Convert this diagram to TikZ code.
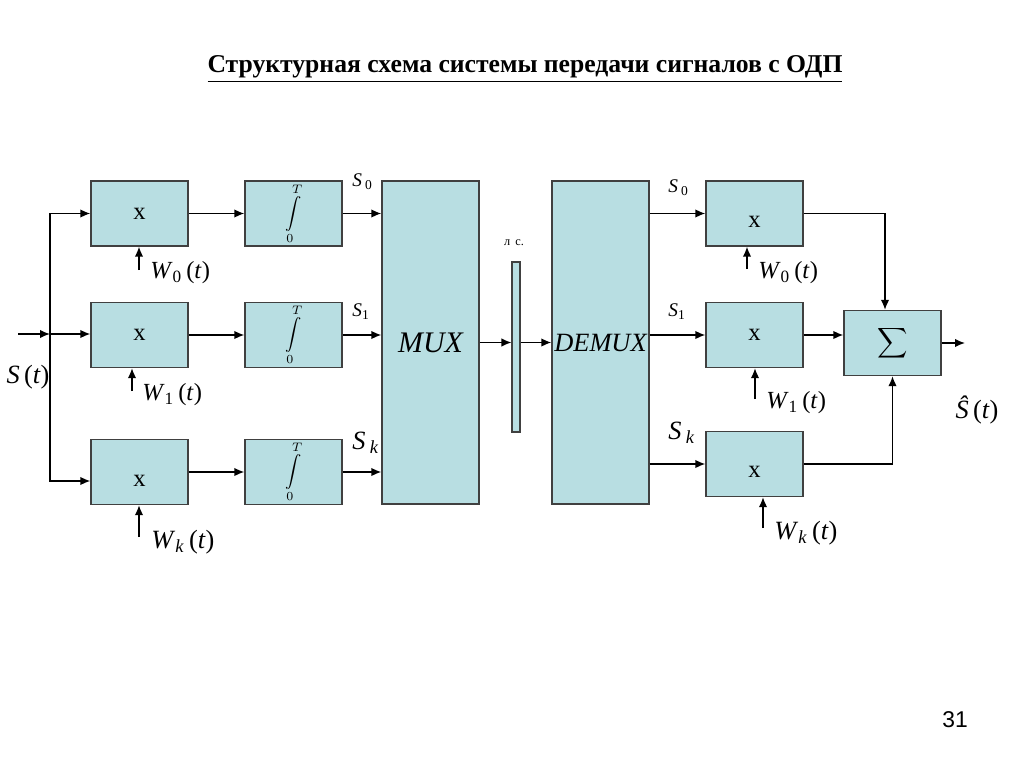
\documentclass[tikz,border=0pt]{standalone}
\usepackage{exscale}
\usepackage{fontspec}
\setmainfont{Liberation Serif}
\newfontfamily\arialfont{Liberation Sans}
\usetikzlibrary{arrows.meta}
\definecolor{boxfill}{RGB}{184,222,226}
\newcommand{\lowx}[1]{\raisebox{-#1}[1ex][0pt]{x}}
\newcommand{\intTo}{$\displaystyle\int\limits_0^T$}

\begin{document}
\begin{tikzpicture}[x=0.02cm, y=-0.02cm, >={Latex[length=2mm,width=1.7mm]},
	blk/.style={rectangle, draw=black!75, fill=boxfill, line width=0.8pt, minimum width=1.94cm, minimum height=1.3cm, inner sep=0pt, font=\fontsize{14}{16}\selectfont},
	tall/.style={blk, minimum height=6.46cm, font=\itshape\fontsize{17}{20}\selectfont},
	lbl/.style={inner sep=0pt, font=\fontsize{14}{16}\selectfont},
	sml/.style={inner sep=0pt, anchor=west, font=\fontsize{11}{13}\selectfont}]
			\useasboundingbox (0,0) rectangle (1024,767);
			\node[lbl, font=\bfseries\fontsize{14.6}{17}\selectfont] (title) at (525,69) {\underline{Структурная схема системы передачи сигналов с ОДП}};
			
			% Передатчик
			\node[blk] (m0) at (139.5,213.5) {\lowx{0cm}};
			\node[blk] (m1) at (139.5,335) {\lowx{0cm}};
			\node[blk] (mk) at (139.5,472) {\lowx{0.18cm}};
			\node[blk, font=\fontsize{9.5}{11}\selectfont] (i0) at (293.5,213.5) {\intTo};
			\node[blk, font=\fontsize{9.5}{11}\selectfont] (i1) at (293.5,335) {\intTo};
			\node[blk, font=\fontsize{9.5}{11}\selectfont] (ik) at (293.5,472) {\intTo};
			\node[tall] (mux) at (430.5,342.5) {MUX};
			
			\coordinate (in) at (18,334);
			\coordinate (split) at (50,334);
			\draw[->,thick] (in) -- (split);
			\draw[->,thick] (split) |- (m0.west);
			\draw[->,thick] (split) -- (split -| m1.west);
			\draw[->,thick] (split) |- ([yshift=-0.18cm]mk.west);
			\draw[->,thick] (m0) -- (i0);
			\draw[->,thick] (m1) -- (i1);
			\draw[->,thick] (mk) -- (ik);
			\draw[->,thick] (i0) -- (i0 -| mux.west);
			\draw[->,thick] (i1) -- (i1 -| mux.west);
			\draw[->,thick] (ik) -- (ik -| mux.west);
			
			\coordinate (w0) at (139,270);
			\coordinate (w1) at (132,391);
			\coordinate (wk) at (139,537);
			\draw[->,thick] (w0) -- (w0 |- m0.south);
			\draw[->,thick] (w1) -- (w1 |- m1.south);
			\draw[->,thick] (wk) -- (wk |- mk.south);
			
			\node[lbl, font=\fontsize{15}{17}\selectfont] (st) at (28,377) {\textit{S}\,(\textit{t})};
			\node[lbl, anchor=west] (lw0) at (150,273) {\textit{W}\textsubscript{0}\,(\textit{t})};
			\node[lbl, anchor=west] (lw1) at (142,395) {\textit{W}\textsubscript{1}\,(\textit{t})};
			\node[lbl, anchor=west, font=\fontsize{15}{17}\selectfont] (lwk) at (151,542) {\textit{W}\textsubscript{\textit{k}}\,(\textit{t})};
			\node[sml] (ls0) at (352,182) {\textit{S}\,\textsubscript{0}};
			\node[sml] (ls1) at (352,312) {\textit{S}\textsubscript{1}};
			\node[sml, font=\fontsize{15}{17}\selectfont] (lsk) at (352,443) {\textit{S}\,\textsubscript{\textit{k}}};
			
			% Линия связи
			\node[blk, minimum width=0.16cm, minimum height=3.4cm, line width=0.6pt] (ls) at (516,347) {};
			\node[lbl, font=\fontsize{7}{8}\selectfont] (lsc) at (514,243) {л\, с.};
			
			% Приемник
			\node[tall, font=\itshape\fontsize{15}{18}\selectfont] (demux) at (600.5,342.5) {DEMUX};
			\node[blk] (r0) at (754.5,213.5) {\lowx{0.17cm}};
			\node[blk] (r1) at (754.5,335) {\lowx{0cm}};
			\node[blk] (rk) at (754.5,464) {\lowx{0.16cm}};
			\node[blk, font=\fontsize{12.5}{15}\selectfont] (sum) at (892.5,343) {$\displaystyle\sum$};
			
			\draw[->,thick] (mux) -- (mux -| ls.west);
			\draw[->,thick] (ls.east |- mux.east) -- (mux.east -| demux.west);
			\draw[->,thick] (demux.east |- r0) -- (r0);
			\draw[->,thick] (demux.east |- r1) -- (r1);
			\draw[->,thick] (demux.east |- rk) -- (rk);
			\draw[->,thick] (r0) -| ([xshift=-0.15cm]sum.north);
			\draw[->,thick] (r1) -- (r1 -| sum.west);
			\draw[->,thick] (rk) -| (sum.south);
			\coordinate (out) at (965,343);
			\draw[->,thick] (sum) -- (out);
			
			\coordinate (v0) at (747,269);
			\coordinate (v1) at (755,399);
			\coordinate (vk) at (763,528);
			\draw[->,thick] (v0) -- (v0 |- r0.south);
			\draw[->,thick] (v1) -- (v1 |- r1.south);
			\draw[->,thick] (vk) -- (vk |- rk.south);
			
			\node[lbl, anchor=west] (rw0) at (758,273) {\textit{W}\textsubscript{0}\,(\textit{t})};
			\node[lbl, anchor=west] (rw1) at (766,403) {\textit{W}\textsubscript{1}\,(\textit{t})};
			\node[lbl, anchor=west, font=\fontsize{15}{17}\selectfont] (rwk) at (774,533) {\textit{W}\textsubscript{\textit{k}}\,(\textit{t})};
			\node[sml] (rs0) at (668,188) {\textit{S}\,\textsubscript{0}};
			\node[sml] (rs1) at (668,312) {\textit{S}\textsubscript{1}};
			\node[sml, font=\fontsize{15}{17}\selectfont] (rsk) at (668,433) {\textit{S}\,\textsubscript{\textit{k}}};
			\node[lbl, font=\fontsize{15}{17}\selectfont] (shat) at (977,410) {\textit{Ŝ}\,(\textit{t})};
			
			\node[lbl, font=\arialfont\fontsize{13}{15}\selectfont] (page) at (955,720) {31};
		\end{tikzpicture}
\end{document}
